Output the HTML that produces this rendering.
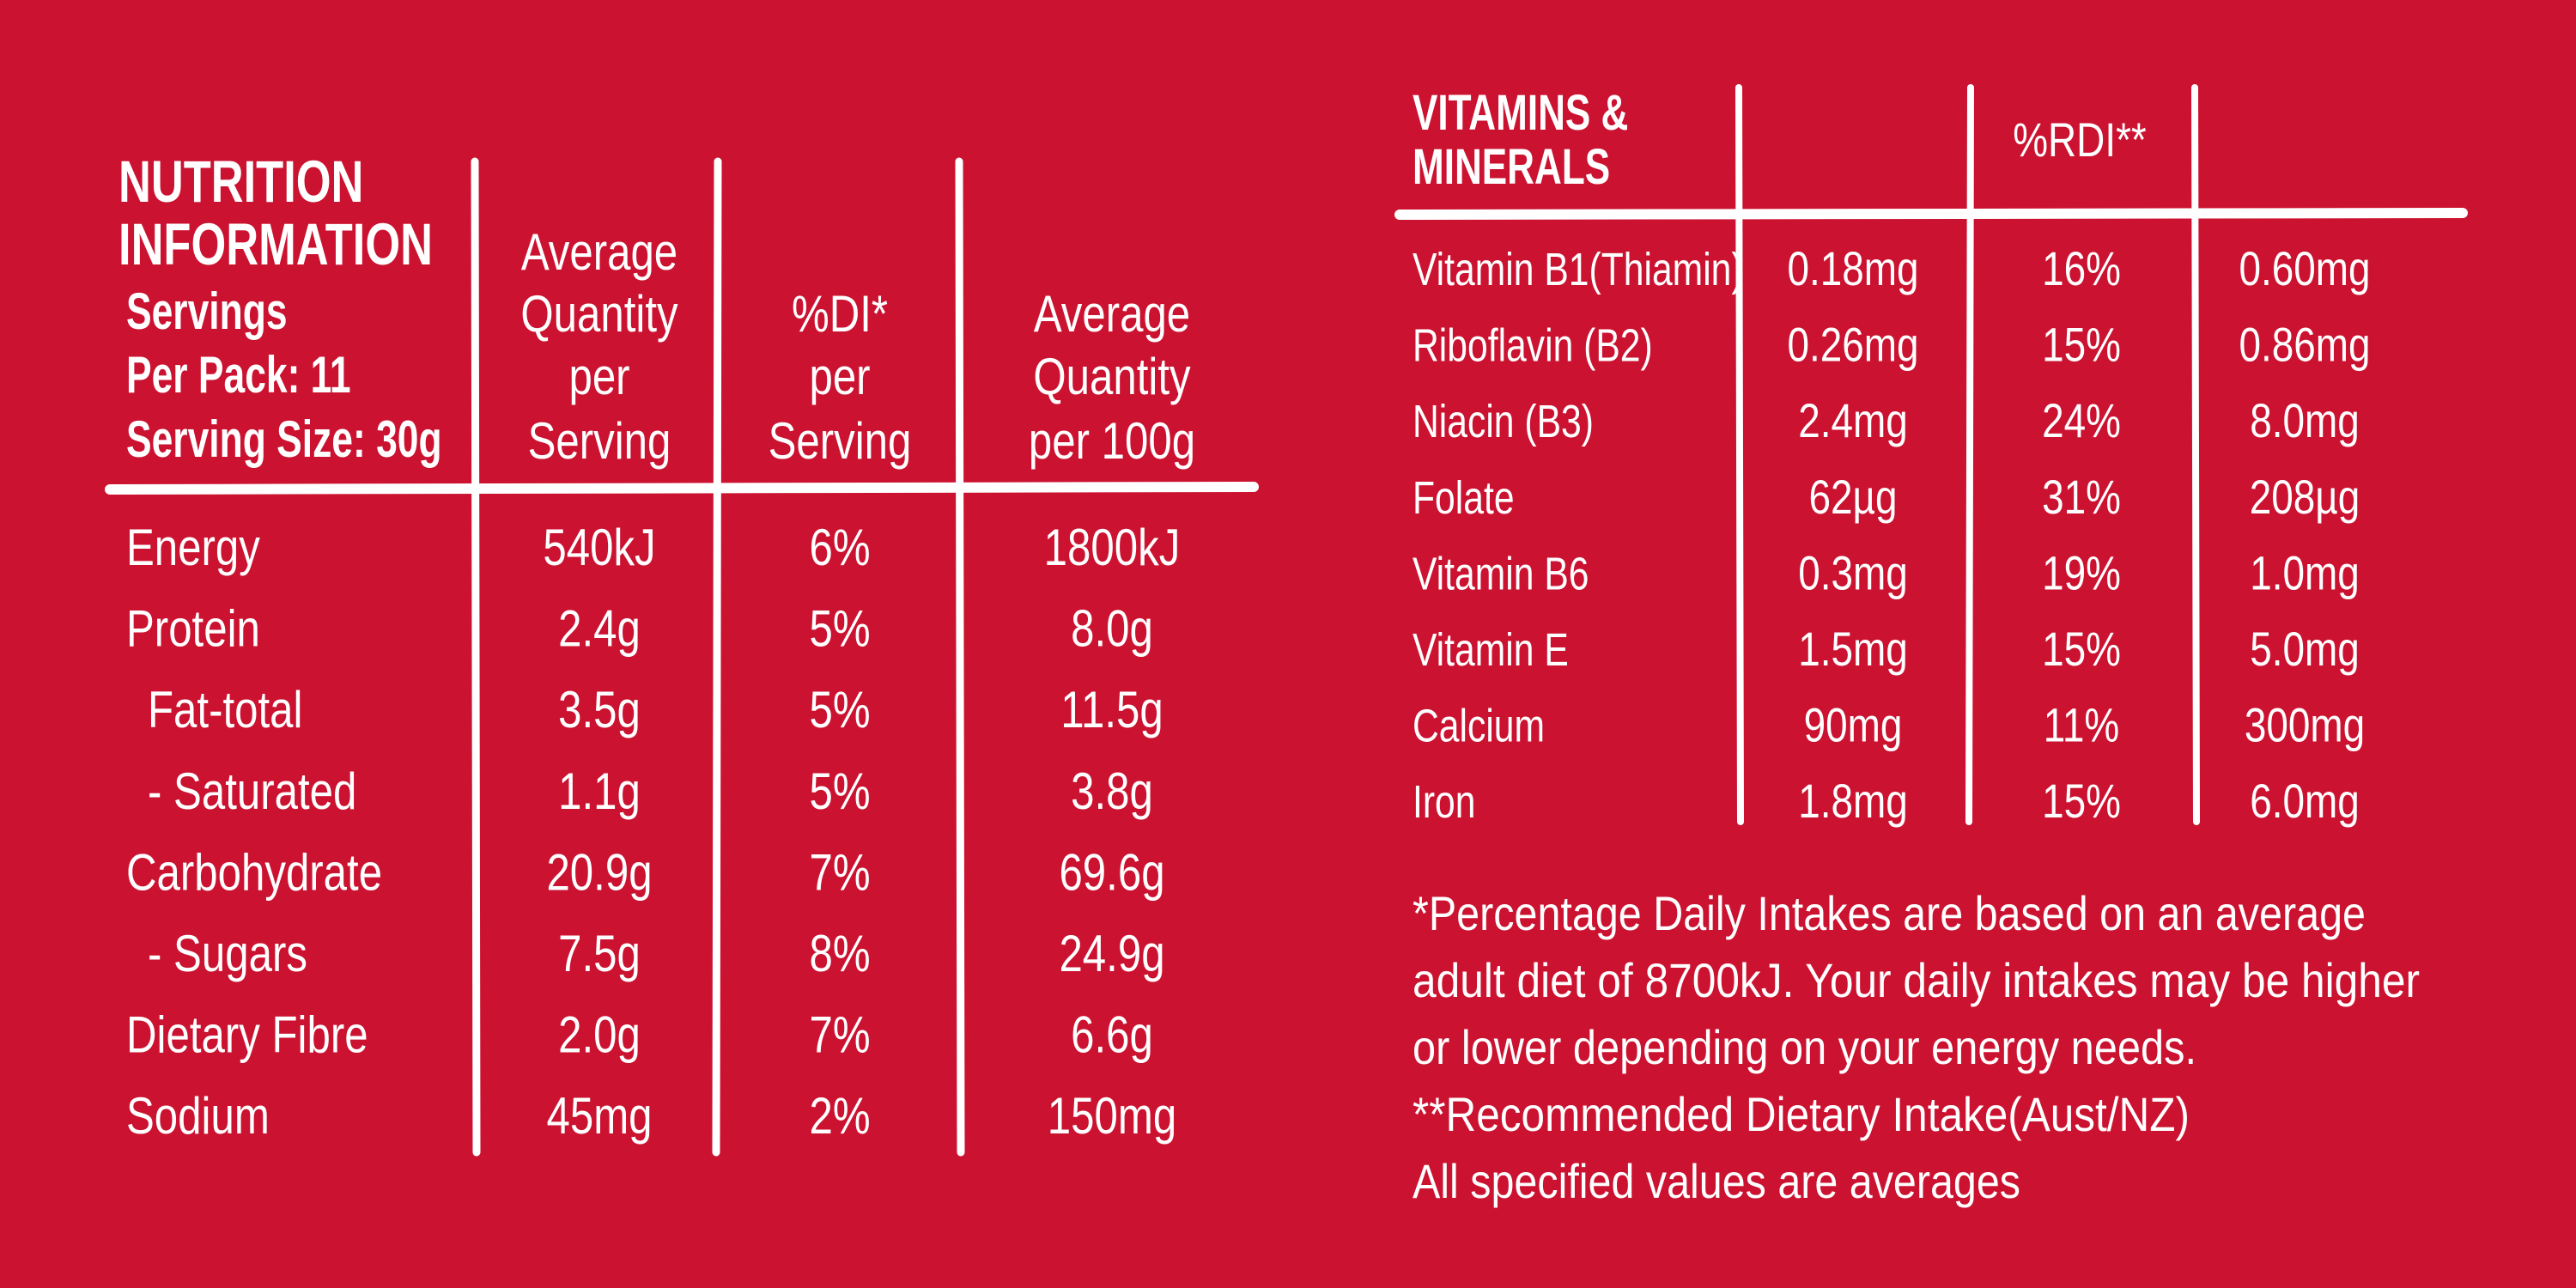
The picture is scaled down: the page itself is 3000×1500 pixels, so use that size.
<!DOCTYPE html>
<html><head><meta charset="utf-8"><style>
html,body{margin:0;padding:0;background:#CB1230;}
svg{display:block}
text{fill:#fff;font-family:"Liberation Sans",sans-serif;}
.b{font-weight:bold}
</style></head><body>
<svg id="s" width="3000" height="1500" viewBox="0 0 3000 1500" xmlns="http://www.w3.org/2000/svg">
<rect width="3000" height="1500" fill="#CB1230"/>
<g stroke="#fff" stroke-linecap="round" fill="none">
<line x1="553" y1="188" x2="555" y2="1342" stroke-width="9"/>
<line x1="836" y1="188" x2="834" y2="1342" stroke-width="9"/>
<line x1="1117" y1="188" x2="1119" y2="1342" stroke-width="9"/>
<line x1="128" y1="570" x2="1460" y2="567" stroke-width="12"/>
<line x1="2025" y1="102" x2="2027" y2="957" stroke-width="8"/>
<line x1="2295" y1="102" x2="2293" y2="957" stroke-width="8"/>
<line x1="2556" y1="102" x2="2558" y2="957" stroke-width="8"/>
<line x1="1630" y1="250" x2="2868" y2="248" stroke-width="12"/>
</g>
<g id="t"></g>
</svg>
<script>
var NS="http://www.w3.org/2000/svg";
var layer=document.getElementById('t');
function txt(s,x,y,size,anchor,bold,sx,name){
  var e=document.createElementNS(NS,'text');
  
  
  e.setAttribute('transform','translate('+x+','+y+') scale('+sx+',1)');
  e.setAttribute('font-size',size);
  e.setAttribute('text-anchor',anchor);
  if(bold)e.setAttribute('font-weight','bold');
  e.textContent=s;layer.appendChild(e);return e;
}
// left header
var hdrLines=["NUTRITION","INFORMATION"];
var hdrSub=["Servings","Per Pack: 11","Serving Size: 30g"];
txt(hdrLines[0],138,235,69,'start',true,0.76,'title-nutrition');
txt(hdrLines[1],138,308,69,'start',true,0.76,'title-information');
var subY=[383,457,532];
for(var i=0;i<3;i++)txt(hdrSub[i],147,subY[i],60,'start',true,0.74,'servings-info');
var colHdr1=["Average","Quantity","per","Serving"],colHdr1Y=[314,386,459,534];
colHdr1.forEach(function(s,i){txt(s,698,colHdr1Y[i],60,'middle',false,0.82,'col-header-per-serving');});
var colHdr2=["%DI*","per","Serving"],colHdr2Y=[386,459,534];
colHdr2.forEach(function(s,i){txt(s,978,colHdr2Y[i],60,'middle',false,0.82,'col-header-di');});
var colHdr3=["Average","Quantity","per 100g"];
colHdr3.forEach(function(s,i){txt(s,1295,colHdr2Y[i],60,'middle',false,0.82,'col-header-per-100g');});
// left rows
var nutrients=["Energy","Protein","Fat-total","  - Saturated","Carbohydrate","  - Sugars","Dietary Fibre","Sodium"];
var perServing=["540kJ","2.4g","3.5g","1.1g","20.9g","7.5g","2.0g","45mg"];
var diPct=["6%","5%","5%","5%","7%","8%","7%","2%"];
var per100=["1800kJ","8.0g","11.5g","3.8g","69.6g","24.9g","6.6g","150mg"];
for(var i=0;i<nutrients.length;i++){
  var y=658+i*94.6;
  var lab=nutrients[i],lx=147;
  if(lab.indexOf('-')>=0){lab=lab.trim();lx=172;}
  txt(lab,lx,y,60,'start',false,0.82,'nutrient-label');
  txt(perServing[i],698,y,60,'middle',false,0.82,'per-serving-value');
  txt(diPct[i],978,y,60,'middle',false,0.82,'di-percent');
  txt(per100[i],1295,y,60,'middle',false,0.82,'per-100g-value');
}
// right header
txt("VITAMINS &",1645,151,58,'start',true,0.76,'title-vitamins');
txt("MINERALS",1645,214,58,'start',true,0.76,'title-minerals');
txt("%RDI**",2422,182,56,'middle',false,0.82,'col-header-rdi');
var vitamins=["Vitamin B1(Thiamin)","Riboflavin (B2)","Niacin (B3)","Folate","Vitamin B6","Vitamin E","Calcium","Iron"];
var vPerServing=["0.18mg","0.26mg","2.4mg","62µg","0.3mg","1.5mg","90mg","1.8mg"];
var vRdi=["16%","15%","24%","31%","19%","15%","11%","15%"];
var vPer100=["0.60mg","0.86mg","8.0mg","208µg","1.0mg","5.0mg","300mg","6.0mg"];
for(var i=0;i<vitamins.length;i++){
  var y=332+i*88.6;
  txt(vitamins[i],1645,y,54,'start',false,0.79,'vitamin-label');
  txt(vPerServing[i],2158,y,56,'middle',false,0.82,'vitamin-per-serving');
  txt(vRdi[i],2424,y,56,'middle',false,0.82,'vitamin-rdi');
  txt(vPer100[i],2684,y,56,'middle',false,0.82,'vitamin-per-100g');
}
// footnotes
var notes=["*Percentage Daily Intakes are based on an average","adult diet of 8700kJ. Your daily intakes may be higher","or lower depending on your energy needs.","**Recommended Dietary Intake(Aust/NZ)","All specified values are averages"];
var noteW=[1110,1173,913,905,708];
for(var i=0;i<notes.length;i++){
  var e=document.createElementNS(NS,'text');
  
  
  e.setAttribute('x',1645);e.setAttribute('y',1083+i*78);
  e.setAttribute('font-size',56);
  e.setAttribute('textLength',noteW[i]);
  e.setAttribute('lengthAdjust','spacingAndGlyphs');
  e.textContent=notes[i];layer.appendChild(e);
}
</script>
</body></html>
